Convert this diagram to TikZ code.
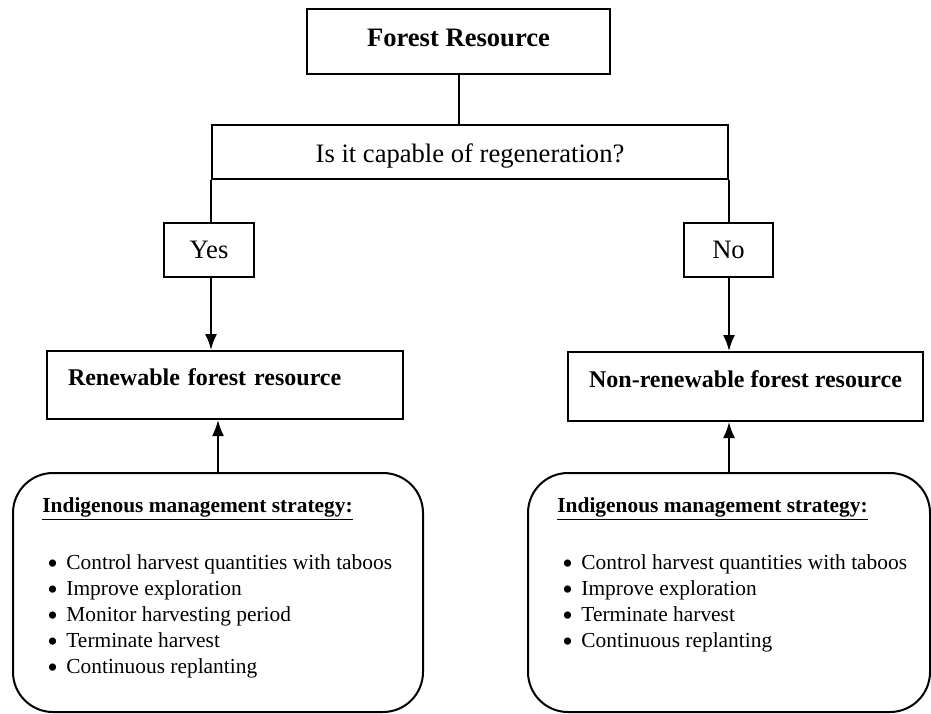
\documentclass[tikz,border=0pt]{standalone}
\usepackage{fontspec}
\setmainfont{Liberation Serif}
\usetikzlibrary{arrows.meta,calc}

\newcommand{\stratitem}[1]{\hspace{2.5pt}\makebox[9.5pt][l]{\smash{\raisebox{-2.1pt}{\fontsize{15}{13}\selectfont\textbullet}}}#1}

\begin{document}
\begin{tikzpicture}[x=0.5pt, y=-0.5pt,
    box/.style={draw, line width=1pt, anchor=north west, inner sep=0pt},
    sbox/.style={draw, line width=1pt, anchor=north west, rounded corners=20pt,
        minimum width=#1, minimum height=119.5pt, inner sep=0pt},
    conn/.style={line width=1pt},
    arr/.style={line width=1pt, -{Latex[length=8pt,width=6pt]}},
    big/.style={font=\fontsize{13.3}{16}\selectfont},
    bigb/.style={font=\bfseries\fontsize{13.3}{16}\selectfont},
    mid/.style={font=\bfseries\fontsize{12}{14}\selectfont},
    small/.style={font=\fontsize{10.7}{13}\selectfont, anchor=north west, align=left, inner sep=0pt}]
    \useasboundingbox (0,0) rectangle (931,713);

    % top
    \node[box, bigb, minimum width=151.5pt, text height=18.5pt, text depth=14pt] (forest) at (306,8) {Forest Resource};
    \node[box, big, minimum width=258pt, text height=18.5pt, text depth=8.5pt] (q) at (211,124) {Is it capable of regeneration?};

    % Yes / No
    \node[box, big, minimum width=45pt, text height=17.5pt, text depth=9.5pt] (yes) at (163,222) {Yes};
    \node[box, big, minimum width=44.5pt, text height=17.5pt, text depth=9.5pt] (no) at (683,222) {No};

    % resources
    \node[box, mid, inner xsep=10.5pt, text width=157pt, align=left, text height=17pt, text depth=17pt] (renew) at (46,350) {Renewable forest resource};
    \node[box, mid, minimum width=177.5pt, text height=17.5pt, text depth=17pt] (nonren) at (567,351) {Non-renewable forest resource};

    % strategies
    \node[sbox=205pt] (stratL) at (12,472) {};
    \node[sbox=201pt] (stratR) at (527,472) {};
    \node[small] (listL) at (42,497) {\underline{\textbf{Indigenous management strategy:}}\\[15.5pt]
        \stratitem{Control harvest quantities with taboos}\\
        \stratitem{Improve exploration}\\
        \stratitem{Monitor harvesting period}\\
        \stratitem{Terminate harvest}\\
        \stratitem{Continuous replanting}};
    \node[small] (listR) at (557,497) {\underline{\textbf{Indigenous management strategy:}}\\[15.5pt]
        \stratitem{Control harvest quantities with taboos}\\
        \stratitem{Improve exploration}\\
        \stratitem{Terminate harvest}\\
        \stratitem{Continuous replanting}};

    % connectors
    \path[draw, conn] (forest.south) -- (forest.south |- q.north);
    \path[draw, conn] (q.south west) -- (q.south west |- yes.north);
    \path[draw, conn] (q.south east) -- (q.south east |- no.north);
    \path[draw, arr] (q.south west |- yes.south) -- (q.south west |- renew.north);
    \path[draw, arr] (q.south east |- no.south) -- (q.south east |- nonren.north);
    \path[draw, arr] (stratL.north) -- (stratL.north |- renew.south);
    \path[draw, arr] (q.south east |- stratR.north) -- (q.south east |- nonren.south);
\end{tikzpicture}
\end{document}
